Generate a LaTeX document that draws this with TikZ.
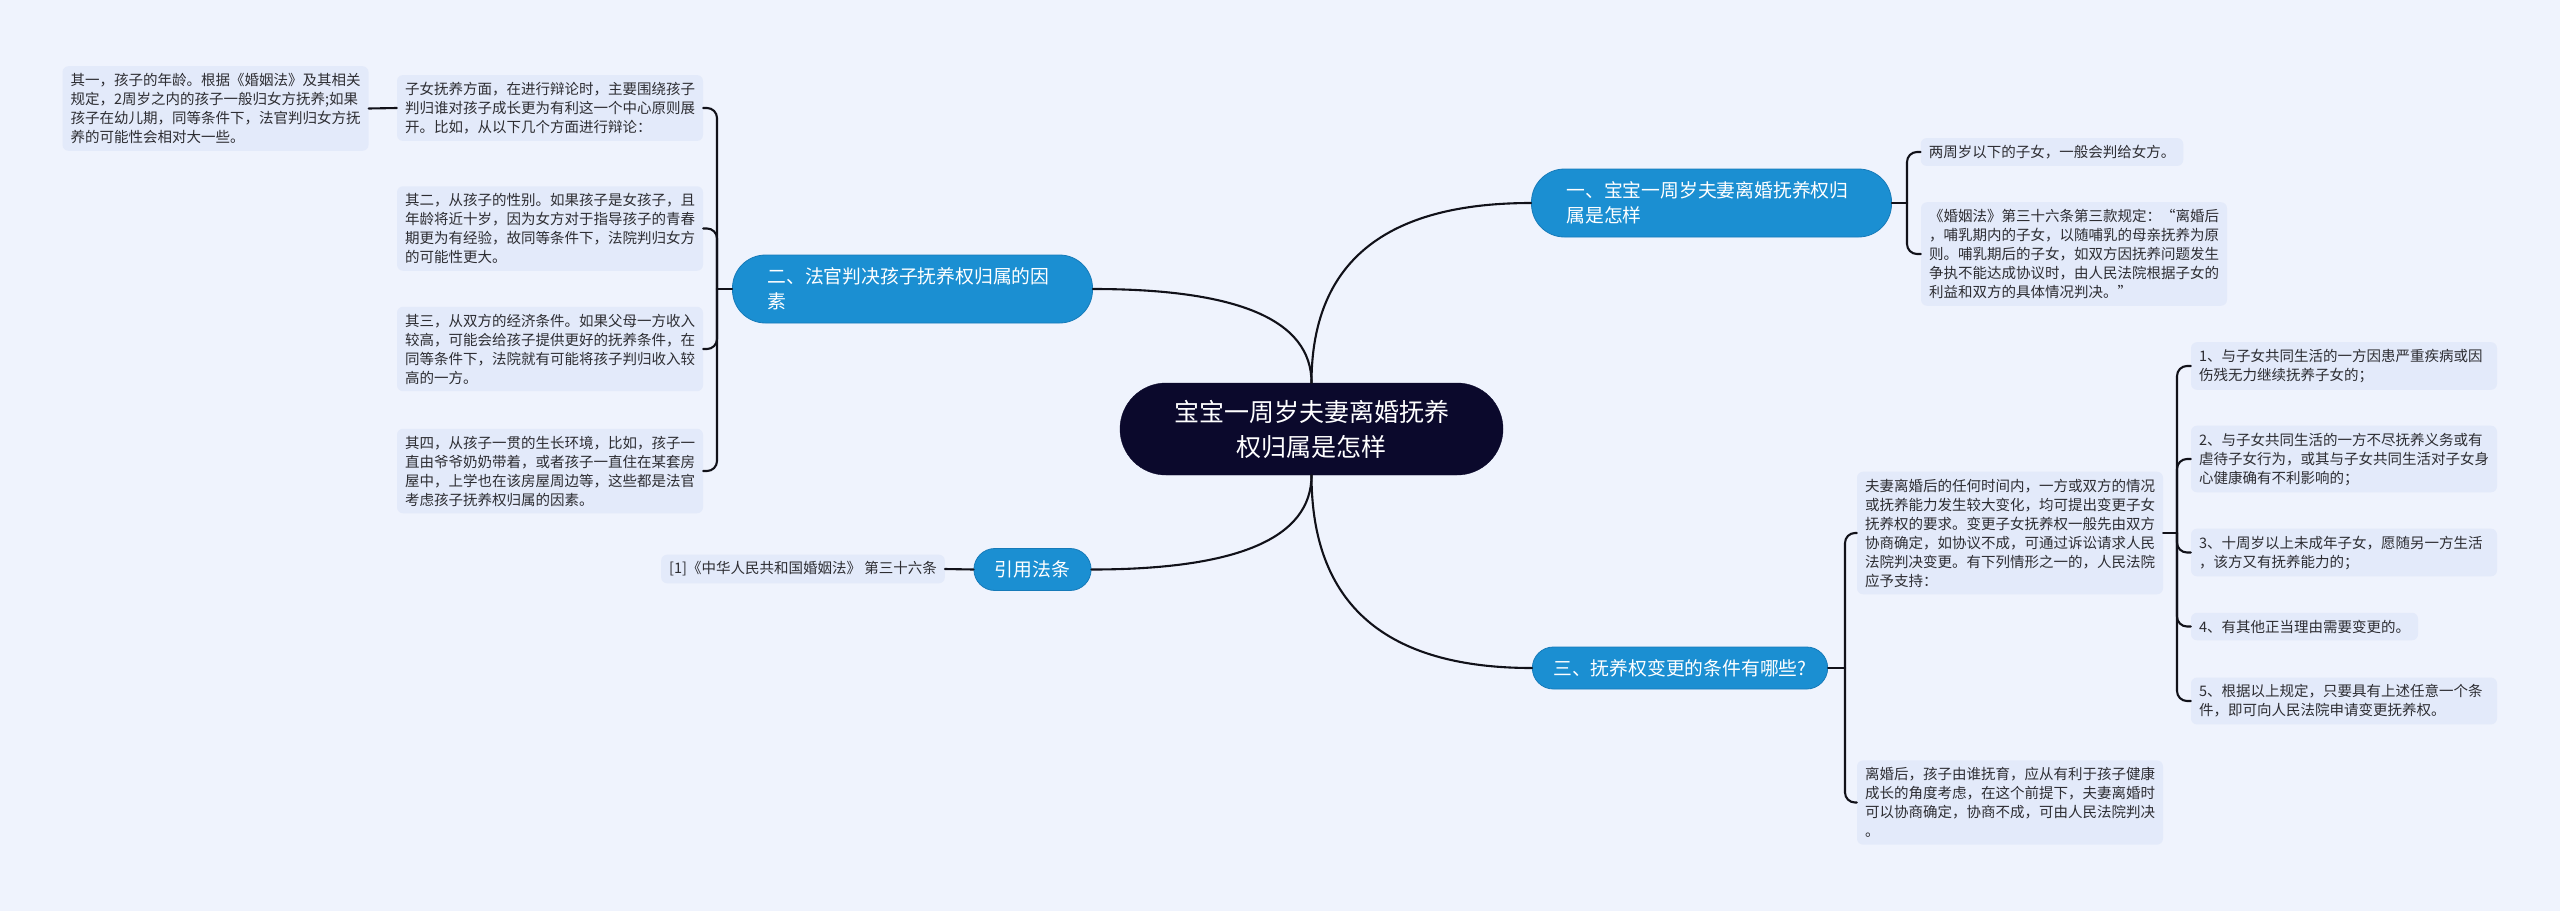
\documentclass[tikz,border=0pt]{standalone}
\usepackage{fontspec}
\newfontfamily\cjk{Noto Sans CJK SC}
\definecolor{bg}{RGB}{239,243,253}
\definecolor{leaffill}{RGB}{227,234,250}
\definecolor{leaftext}{RGB}{45,45,50}
\definecolor{branchblue}{RGB}{27,143,210}
\definecolor{branchline}{RGB}{22,122,185}
\definecolor{rootfill}{RGB}{11,9,44}
\definecolor{linecol}{RGB}{17,17,25}
\tikzset{
  leaf/.style={fill=leaffill, rounded corners=6pt, text=leaftext, align=left,
    font=\cjk\fontsize{14.5}{19}\selectfont, inner xsep=8pt, inner ysep=7pt},
  wideleaf/.style={leaf, text width=290pt},
  branch/.style={fill=branchblue, draw=branchline, line width=0.8pt, text=white, align=left,
    font=\cjk\fontsize{18.8}{25}\selectfont},
  twoline/.style={branch, text width=290pt, inner xsep=35pt, minimum height=68pt, rounded corners=33pt},
  oneline/.style={branch, inner xsep=21pt, minimum height=42pt, rounded corners=21pt},
  rootnode/.style={fill=rootfill, draw=rootfill, text=white, align=center,
    font=\cjk\fontsize{25}{35}\selectfont, minimum width=383pt, minimum height=92pt, rounded corners=46pt},
  conn/.style={draw=linecol, line width=2.1pt, line cap=round},
  brace/.style={conn, rounded corners=10pt}
}
\begin{document}
\begin{tikzpicture}[x=1pt,y=-1pt]
\fill[bg] (0,0) rectangle (2560,911);
\useasboundingbox (0,0) rectangle (2560,911);

% root
\node[rootnode] (root) at (1311.5,429) {宝宝一周岁夫妻离婚抚养\\权归属是怎样};

% main branches
\node[twoline] (b1) at (1711.5,203) {一、宝宝一周岁夫妻离婚抚养权归\\属是怎样};
\node[twoline] (b2) at (912.5,289) {二、法官判决孩子抚养权归属的因\\素};
\node[oneline] (b3) at (1680,668) {三、抚养权变更的条件有哪些?};
\node[oneline] (law) at (1032.5,569.5) {引用法条};

% branch 1 leaves
\node[leaf] (r1) at (2052,152) {两周岁以下的子女，一般会判给女方。};
\node[wideleaf] (r2) at (2074,254) {《婚姻法》第三十六条第三款规定：“离婚后\\，哺乳期内的子女，以随哺乳的母亲抚养为原\\则。哺乳期后的子女，如双方因抚养问题发生\\争执不能达成协议时，由人民法院根据子女的\\利益和双方的具体情况判决。”};

% branch 2 leaves
\node[wideleaf] (l2) at (550,108) {子女抚养方面，在进行辩论时，主要围绕孩子\\判归谁对孩子成长更为有利这一个中心原则展\\开。比如，从以下几个方面进行辩论：};
\node[wideleaf] (l1) at (215.5,108.5) {其一，孩子的年龄。根据《婚姻法》及其相关\\规定，2周岁之内的孩子一般归女方抚养;如果\\孩子在幼儿期，同等条件下，法官判归女方抚\\养的可能性会相对大一些。};
\node[wideleaf] (l3) at (550,228.5) {其二，从孩子的性别。如果孩子是女孩子，且\\年龄将近十岁，因为女方对于指导孩子的青春\\期更为有经验，故同等条件下，法院判归女方\\的可能性更大。};
\node[wideleaf] (l4) at (550,349) {其三，从双方的经济条件。如果父母一方收入\\较高，可能会给孩子提供更好的抚养条件，在\\同等条件下，法院就有可能将孩子判归收入较\\高的一方。};
\node[wideleaf] (l5) at (550,471) {其四，从孩子一贯的生长环境，比如，孩子一\\直由爷爷奶奶带着，或者孩子一直住在某套房\\屋中，上学也在该房屋周边等，这些都是法官\\考虑孩子抚养权归属的因素。};

% law leaf
\node[leaf] (lref) at (803,569) {[1]《中华人民共和国婚姻法》 第三十六条};

% branch 3 leaves
\node[wideleaf] (t1) at (2010,533) {夫妻离婚后的任何时间内，一方或双方的情况\\或抚养能力发生较大变化，均可提出变更子女\\抚养权的要求。变更子女抚养权一般先由双方\\协商确定，如协议不成，可通过诉讼请求人民\\法院判决变更。有下列情形之一的，人民法院\\应予支持：};
\node[wideleaf] (t2) at (2010,802.5) {离婚后，孩子由谁抚育，应从有利于孩子健康\\成长的角度考虑，在这个前提下，夫妻离婚时\\可以协商确定，协商不成，可由人民法院判决\\。};

% sub leaves
\node[wideleaf] (u1) at (2344,366) {1、与子女共同生活的一方因患严重疾病或因\\伤残无力继续抚养子女的；};
\node[wideleaf] (u2) at (2344,459) {2、与子女共同生活的一方不尽抚养义务或有\\虐待子女行为，或其与子女共同生活对子女身\\心健康确有不利影响的；};
\node[wideleaf] (u3) at (2344,552.5) {3、十周岁以上未成年子女，愿随另一方生活\\，该方又有抚养能力的；};
\node[leaf] (u4) at (2304.5,626.5) {4、有其他正当理由需要变更的。};
\node[wideleaf] (u5) at (2344,701) {5、根据以上规定，只要具有上述任意一个条\\件，即可向人民法院申请变更抚养权。};

% root connectors
\draw[conn] (root.north) .. controls +(0,-120) and +(-147,0) .. (b1.west);
\draw[conn] (root.north) .. controls +(0,-63) and +(145,0) .. (b2.east);
\draw[conn] (root.south) .. controls +(0,129) and +(-147,0) .. (b3.west);
\draw[conn] (root.south) .. controls +(0,63) and +(146,0) .. (law.east);

% spines
\coordinate (s1) at (1907,203);
\coordinate (s2) at (717,289);
\coordinate (s3) at (1845,668);
\coordinate (s4) at (2177,533);

\draw[conn] (b1.east) -- (s1);
\draw[brace] (s1) |- (r1.west);
\draw[brace] (s1) |- (r2.west);

\draw[conn] (b2.west) -- (s2);
\draw[brace] (s2) |- (l2.east);
\draw[brace] (s2) |- (l3.east);
\draw[brace] (s2) |- (l4.east);
\draw[brace] (s2) |- (l5.east);
\draw[conn] (l2.west) -- (l1.east);

\draw[conn] (law.west) -- (lref.east);

\draw[conn] (b3.east) -- (s3);
\draw[brace] (s3) |- (t1.west);
\draw[brace] (s3) |- (t2.west);

\draw[conn] (t1.east) -- (s4);
\draw[brace] (s4) |- (u1.west);
\draw[brace] (s4) |- (u2.west);
\draw[brace] (s4) |- (u3.west);
\draw[brace] (s4) |- (u4.west);
\draw[brace] (s4) |- (u5.west);
\end{tikzpicture}
\end{document}
